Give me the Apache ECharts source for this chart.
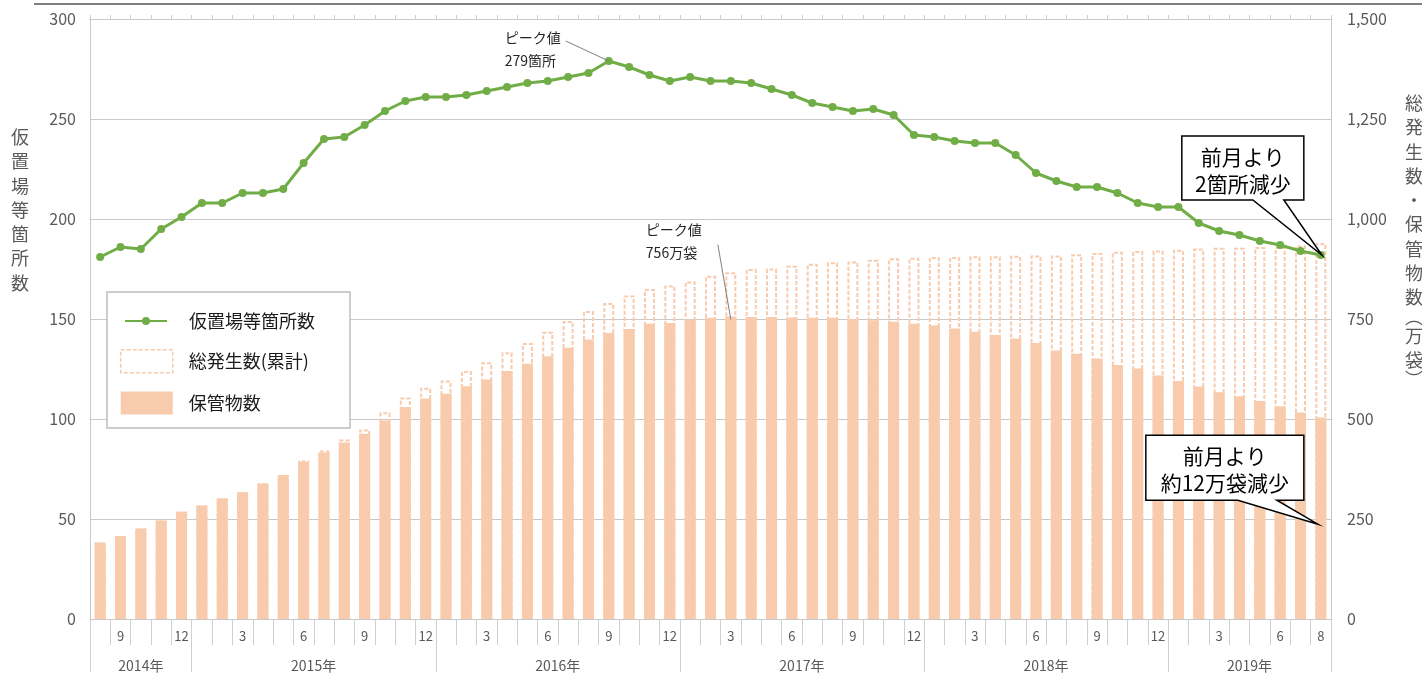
<!DOCTYPE html>
<html>
<head>
<meta charset="utf-8">
<title>仮置場等箇所数・保管物数の推移</title>
<script src="https://cdn.jsdelivr.net/npm/echarts@6/dist/echarts.min.js"></script>
<style>
html,body{margin:0;padding:0;background:#fff;}
#main{width:1422px;height:673px;}
</style>
</head>
<body>
<div id="main"></div>
<script>
// 月 (2014年8月〜2019年8月)
var months = [
  '2014/8','2014/9','2014/10','2014/11','2014/12',
  '2015/1','2015/2','2015/3','2015/4','2015/5','2015/6','2015/7','2015/8','2015/9','2015/10','2015/11','2015/12',
  '2016/1','2016/2','2016/3','2016/4','2016/5','2016/6','2016/7','2016/8','2016/9','2016/10','2016/11','2016/12',
  '2017/1','2017/2','2017/3','2017/4','2017/5','2017/6','2017/7','2017/8','2017/9','2017/10','2017/11','2017/12',
  '2018/1','2018/2','2018/3','2018/4','2018/5','2018/6','2018/7','2018/8','2018/9','2018/10','2018/11','2018/12',
  '2019/1','2019/2','2019/3','2019/4','2019/5','2019/6','2019/7','2019/8'
];
var years = ['2014年','2015年','2016年','2017年','2018年','2019年'];

// 仮置場等箇所数
var sites = [
  181,186,185,195,201,
  208,208,213,213,215,228,240,241,247,254,259,261,
  261,262,264,266,268,269,271,273,279,276,272,269,
  271,269,269,268,265,262,258,256,254,255,252,242,
  241,239,238,238,232,223,219,216,216,213,208,206,
  206,198,194,192,189,187,184,182
];
// 総発生数(累計) 万袋
var totalBags = [
  191,207,226,246,268,
  284,301,317,339,360,396,421,449,474,517,554,578,
  596,620,642,667,690,718,745,770,790,809,825,834,
  844,858,867,875,876,883,888,892,894,898,902,903,
  905,905,907,907,908,909,909,912,915,918,920,921,
  923,926,928,928,930,930,934,940
];
// 保管物数 万袋
var storedBags = [
  191,207,226,246,268,
  284,301,317,339,360,393,416,441,463,496,530,551,
  563,582,599,620,638,657,678,699,715,725,738,740,
  749,753,756,755,755,754,753,753,750,747,743,738,
  734,726,718,710,701,690,671,663,651,635,626,609,
  595,581,567,557,545,532,516,504
];

var FONT = '"Noto Sans CJK JP", sans-serif';
var GRIDC = '#c8c8c8';
var TICKC = '#d0d0d0';
var TEXTC = '#595959';
var BAR = '#f8cbad';
var GREEN = '#70ad47';

// 年ラベルは各年の月の中央に置く
var yearSpan = {};
months.forEach(function (m, i) {
  var y = m.split('/')[0] + '年';
  if (!yearSpan[y]) yearSpan[y] = { first: i, last: i };
  yearSpan[y].last = i;
});
var yearLabelAt = {};
years.forEach(function (y) {
  var s = yearSpan[y];
  var mid = (s.first + s.last) / 2;
  yearLabelAt[Math.floor(mid)] = { text: y, half: mid % 1 !== 0 };
});

var chart = echarts.init(document.getElementById('main'));

var legendText = { fontSize: 18, color: '#1a1a1a', fontFamily: FONT };

var option = {
  animation: false,
  textStyle: { fontFamily: FONT },
  grid: { left: 90, right: 91, top: 19, bottom: 53, containLabel: false },
  legend: [
    {
      orient: 'vertical',
      left: 124,
      top: 312,
      padding: 0,
      itemWidth: 42,
      itemHeight: 10,
      textStyle: Object.assign({ padding: [0, 0, 0, 17] }, legendText),
      data: ['仮置場等箇所数']
    },
    {
      orient: 'vertical',
      left: 120,
      top: 349,
      padding: 0,
      itemGap: 18,
      itemWidth: 52,
      itemHeight: 23,
      textStyle: Object.assign({ padding: [0, 0, 0, 11] }, legendText),
      data: [
        {
          name: '総発生数(累計)', icon: 'rect',
          itemStyle: { color: '#fff', borderColor: BAR, borderWidth: 1.5, borderType: [4, 2] }
        },
        { name: '保管物数', icon: 'rect' }
      ]
    }
  ],
  xAxis: [
    {
      type: 'category',
      data: months,
      position: 'bottom',
      axisLine: { show: true, lineStyle: { color: GRIDC } },
      axisTick: { show: true, interval: 0, length: 26, lineStyle: { color: TICKC } },
      axisLabel: {
        interval: 0,
        margin: 11,
        fontSize: 13,
        color: TEXTC,
        fontFamily: FONT,
        formatter: function (value, index) {
          var m = +value.split('/')[1];
          if (m % 3 === 0 || index === months.length - 1) return String(m);
          return '';
        }
      },
      splitLine: { show: false }
    },
    {
      type: 'category',
      data: months,
      position: 'bottom',
      axisLine: { show: false },
      axisTick: {
        show: true,
        length: 53,
        lineStyle: { color: TICKC },
        interval: function (index) {
          return index === 0 || months[index].split('/')[1] === '1';
        }
      },
      axisLabel: {
        interval: 0,
        margin: 40,
        fontSize: 14,
        color: TEXTC,
        fontFamily: FONT,
        formatter: function (value, index) {
          var l = yearLabelAt[index];
          if (!l) return '';
          return (l.half ? '{h|' : '{n|') + l.text + '}';
        },
        rich: {
          n: { fontSize: 14, color: TEXTC, fontFamily: FONT },
          h: { fontSize: 14, color: TEXTC, fontFamily: FONT, padding: [0, 0, 0, 20] }
        }
      },
      splitLine: { show: false }
    },
    {
      type: 'category',
      data: months,
      position: 'top',
      axisLine: { show: true, lineStyle: { color: GRIDC } },
      axisTick: { show: true, interval: 0, length: 4, lineStyle: { color: TICKC } },
      axisLabel: { show: false },
      splitLine: { show: false }
    }
  ],
  yAxis: [
    {
      type: 'value',
      min: 0,
      max: 300,
      interval: 50,
      position: 'left',
      axisLine: { show: true, lineStyle: { color: GRIDC } },
      axisTick: { show: false },
      axisLabel: { margin: 14, fontSize: 16, color: TEXTC, fontFamily: FONT },
      splitLine: { show: true, lineStyle: { color: GRIDC, width: 1 } }
    },
    {
      type: 'value',
      min: 0,
      max: 1500,
      interval: 250,
      position: 'right',
      axisLine: { show: true, lineStyle: { color: GRIDC } },
      axisTick: { show: false },
      axisLabel: {
        margin: 16, fontSize: 16, color: TEXTC, fontFamily: FONT,
        formatter: function (v) { return v.toLocaleString('en-US'); }
      },
      splitLine: { show: false }
    }
  ],
  series: [
    {
      name: '総発生数(累計)',
      type: 'bar',
      yAxisIndex: 1,
      data: totalBags,
      barWidth: 11,
      barGap: '-100%',
      itemStyle: { color: 'rgba(255,255,255,0)', borderColor: BAR, borderWidth: 2, borderType: [4, 2] }
    },
    {
      name: '保管物数',
      type: 'bar',
      yAxisIndex: 1,
      data: storedBags,
      barWidth: 11,
      barGap: '-100%',
      itemStyle: { color: BAR }
    },
    {
      name: '仮置場等箇所数',
      type: 'line',
      yAxisIndex: 0,
      data: sites,
      symbol: 'circle',
      symbolSize: 8,
      lineStyle: { color: GREEN, width: 3 },
      itemStyle: { color: GREEN },
      z: 5
    }
  ]
};

chart.setOption(option);

// 注記
var P = chart.convertToPixel({ seriesIndex: 2 }, [months[25], 279]);
var Q = chart.convertToPixel({ seriesIndex: 1 }, [months[31], 756]);
var A = chart.convertToPixel({ seriesIndex: 2 }, [months[60], sites[60]]);
var B = chart.convertToPixel({ seriesIndex: 1 }, [months[60], 237]);

function txt(x, y, s, size, color, align) {
  return {
    type: 'text', x: x, y: y, z: 110,
    style: {
      text: s, fill: color, font: size + 'px ' + FONT,
      align: align || 'left', verticalAlign: 'middle',
      textAlign: align || 'left', textVerticalAlign: 'middle'
    }
  };
}
// 縦書きの軸タイトル
function vtext(x, y, chars, short) {
  var s = chars.map(function (c) { return (short.indexOf(c) >= 0 ? '{p|' : '{c|') + c + '}'; }).join('\n');
  return {
    type: 'text', x: x, y: y, z: 110,
    style: {
      text: s, fill: TEXTC, font: '18px ' + FONT,
      align: 'center', textAlign: 'center', verticalAlign: 'top', textVerticalAlign: 'top',
      rich: {
        c: { fontSize: 18, fontFamily: FONT, fill: TEXTC, lineHeight: 24.3 },
        p: { fontSize: 18, fontFamily: FONT, fill: TEXTC, lineHeight: 14 }
      }
    }
  };
}
function callout(x1, y1, x2, y2, b1, b2, tip, line1, line2) {
  var cx = (x1 + x2) / 2;
  return [
    {
      type: 'polygon', z: 105,
      shape: { points: [[x1, y1], [x2, y1], [x2, y2], [b2, y2], tip, [b1, y2], [x1, y2]] },
      style: { fill: '#fff', stroke: '#000', lineWidth: 1.5 }
    },
    txt(cx, y1 + 21, line1, 21, '#000', 'center'),
    txt(cx, y1 + 48, line2, 21, '#000', 'center')
  ];
}

var g = [
  { type: 'line', z: 100, shape: { x1: 34, y1: 4, x2: 1422, y2: 4 }, style: { stroke: '#7f7f7f', lineWidth: 2 } },
  // 凡例の枠
  { type: 'rect', z: 3, shape: { x: 107, y: 292, width: 243, height: 136 }, style: { fill: '#fff', stroke: '#bfbfbf', lineWidth: 1.5 } },
  vtext(20, 125, ['仮', '置', '場', '等', '箇', '所', '数'], []),
  vtext(1414, 91, ['総', '発', '生', '数', '・', '保', '管', '物', '数', '︵', '万', '袋', '︶'], ['︵', '︶']),
  // ピーク値
  { type: 'line', z: 100, shape: { x1: P[0] - 43, y1: P[1] - 20, x2: P[0], y2: P[1] }, style: { stroke: '#7f7f7f', lineWidth: 1 } },
  txt(P[0] - 104, P[1] - 23, 'ピーク値', 14, '#262626'),
  txt(P[0] - 104, P[1], '279箇所', 14, '#262626'),
  { type: 'line', z: 100, shape: { x1: Q[0] - 13, y1: Q[1] - 72, x2: Q[0], y2: Q[1] + 3 }, style: { stroke: '#7f7f7f', lineWidth: 1 } },
  txt(Q[0] - 85, Q[1] - 87, 'ピーク値', 14, '#262626'),
  txt(Q[0] - 85, Q[1] - 64, '756万袋', 14, '#262626')
];
g = g.concat(callout(A[0] - 139, A[1] - 119, A[0] - 17, A[1] - 55, A[0] - 68, A[0] - 37, [A[0] + 1, A[1]], '前月より', '2箇所減少'));
g = g.concat(callout(B[0] - 175, B[1] - 89, B[0] - 17, B[1] - 24, B[0] - 83, B[0] - 44, [B[0] - 3, B[1]], '前月より', '約12万袋減少'));

chart.setOption({ graphic: g });
</script>
</body>
</html>
